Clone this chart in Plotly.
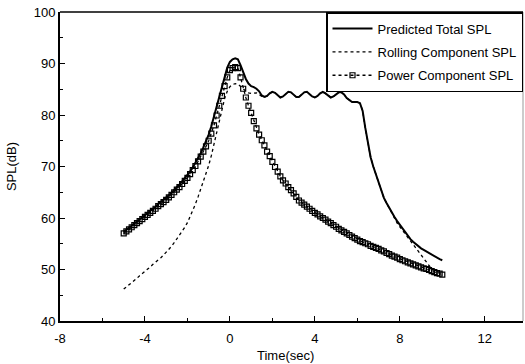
import numpy as np
import plotly.graph_objects as go

# time axis: -5 s to 10 s, 0.125 s step (121 samples)
time_sec = np.round(np.arange(-5.0, 10.0001, 0.125), 3)

# one row per second (8 samples), last value for t = 10
total_spl = [
    57.3, 57.7, 58.1, 58.5, 58.9, 59.3, 59.7, 60.2,   # -5
    60.6, 61.0, 61.4, 61.8, 62.2, 62.7, 63.1, 63.5,   # -4
    63.9, 64.4, 64.9, 65.4, 66.0, 66.5, 67.1, 67.7,   # -3
    68.3, 69.0, 69.8, 70.7, 71.7, 72.6, 73.7, 74.8,   # -2
    76.2, 77.8, 79.7, 81.7, 83.8, 85.6, 87.6, 89.2,   # -1
    90.3, 90.8, 91.0, 90.8, 89.7, 88.3, 87.0, 86.1,   # 0
    85.6, 85.4, 85.1, 84.6, 83.8, 83.5, 83.7, 84.2,   # 1
    84.5, 84.3, 83.8, 83.4, 83.6, 84.0, 84.5, 84.4,   # 2
    83.9, 83.5, 83.5, 84.0, 84.4, 84.5, 84.1, 83.6,   # 3
    83.4, 83.7, 84.2, 84.5, 84.2, 83.7, 83.4, 83.6,   # 4
    84.0, 84.4, 84.4, 84.0, 83.3, 82.8, 82.5, 82.5,   # 5
    82.5, 82.3, 80.8, 77.5, 74.5, 71.8, 70.0, 68.5,   # 6
    67.0, 65.3, 63.9, 62.9, 61.9, 61.0, 60.2, 59.4,   # 7
    58.7, 58.0, 57.2, 56.6, 55.9, 55.4, 54.9, 54.5,   # 8
    54.1, 53.8, 53.5, 53.1, 52.8, 52.5, 52.2, 52.0,   # 9
    51.8,
]

rolling_spl = [
    46.2, 46.6, 47.0, 47.4, 47.9, 48.3, 48.8, 49.2,   # -5
    49.7, 50.1, 50.5, 51.0, 51.4, 51.9, 52.3, 52.8,   # -4
    53.3, 53.9, 54.5, 55.2, 55.9, 56.6, 57.4, 58.2,   # -3
    59.1, 60.2, 61.4, 62.7, 64.1, 65.6, 67.1, 68.6,   # -2
    70.2, 72.1, 74.3, 76.8, 79.2, 81.4, 83.2, 84.6,   # -1
    85.5, 85.9, 86.1, 86.0, 85.6, 85.1, 84.6, 84.3,   # 0
    84.2, 84.3, 84.3, 84.0, 83.6, 83.5, 83.7, 84.2,   # 1
    84.5, 84.3, 83.8, 83.4, 83.6, 84.0, 84.5, 84.4,   # 2
    83.9, 83.5, 83.5, 84.0, 84.4, 84.5, 84.1, 83.6,   # 3
    83.4, 83.7, 84.2, 84.5, 84.2, 83.7, 83.4, 83.6,   # 4
    84.0, 84.4, 84.4, 84.0, 83.3, 82.8, 82.5, 82.5,   # 5
    82.5, 82.3, 80.8, 77.5, 74.5, 71.8, 70.0, 68.5,   # 6
    67.0, 65.3, 63.9, 62.9, 61.9, 61.0, 60.2, 59.0,   # 7
    58.3, 57.6, 56.9, 56.2, 55.5, 54.8, 54.1, 53.4,   # 8
    52.7, 52.0, 51.3, 50.6, 50.1, 49.8, 49.6, 49.4,   # 9
    49.2,
]

power_spl = [
    57.0, 57.4, 57.8, 58.2, 58.6, 59.0, 59.4, 59.8,   # -5
    60.2, 60.6, 61.0, 61.4, 61.8, 62.3, 62.7, 63.1,   # -4
    63.5, 64.0, 64.5, 65.0, 65.5, 66.0, 66.6, 67.2,   # -3
    67.8, 68.5, 69.3, 70.1, 71.0, 71.9, 72.9, 73.9,   # -2
    75.0, 76.4, 78.0, 79.9, 81.8, 83.7, 85.6, 87.3,   # -1
    88.7, 89.1, 89.3, 89.1, 87.3, 85.1, 83.4, 81.8,   # 0
    80.4, 78.8, 77.4, 76.2, 75.1, 74.1, 72.9, 72.0,   # 1
    70.9, 69.9, 69.0, 68.1, 67.3, 66.7, 66.0, 65.4,   # 2
    64.8, 64.1, 63.4, 63.0, 62.6, 62.2, 61.8, 61.4,   # 3
    61.0, 60.7, 60.3, 60.0, 59.7, 59.3, 59.0, 58.6,   # 4
    58.3, 57.9, 57.6, 57.3, 57.0, 56.7, 56.4, 56.1,   # 5
    55.8, 55.5, 55.3, 55.1, 54.9, 54.6, 54.4, 54.2,   # 6
    54.0, 53.7, 53.5, 53.2, 53.0, 52.7, 52.5, 52.3,   # 7
    52.0, 51.8, 51.6, 51.4, 51.2, 51.0, 50.8, 50.6,   # 8
    50.4, 50.2, 50.1, 49.9, 49.7, 49.5, 49.3, 49.2,   # 9
    49.0,
]

x_ticks = [-8, -4, 0, 4, 8, 12]
y_ticks = [40, 50, 60, 70, 80, 90, 100]

FONT = "Liberation Sans, Arial, Helvetica, sans-serif"

fig = go.Figure()
fig.add_trace(go.Scatter(
    x=time_sec, y=total_spl, mode="lines", name="Predicted Total SPL",
    line=dict(color="black", width=2), legendgroup="a"))
fig.add_trace(go.Scatter(
    x=time_sec, y=rolling_spl, mode="lines", name="Rolling Component SPL",
    line=dict(color="black", width=1.3, dash="dot"), legendgroup="b"))
fig.add_trace(go.Scatter(
    x=time_sec, y=power_spl, mode="lines+markers", name="Power Component SPL",
    line=dict(color="black", width=1.3, dash="dot"),
    marker=dict(symbol="square-open", size=5, color="black", line=dict(width=1.2)),
    legendgroup="c"))

fig.update_layout(
    width=525, height=364,
    margin=dict(l=60, r=2, t=12, b=43),
    paper_bgcolor="white", plot_bgcolor="white",
    font=dict(family=FONT, size=13, color="black"),
    showlegend=True,
    legend=dict(x=1, y=1, xanchor="right", yanchor="top",
                bgcolor="white", bordercolor="black", borderwidth=1.5,
                font=dict(family=FONT, size=13, color="black"),
                itemwidth=40, tracegroupgap=3.5),
)
fig.update_xaxes(
    range=[-8, 13.8], tickvals=x_ticks, ticktext=[f"{v}" for v in x_ticks],
    ticks="inside", ticklen=5, tickwidth=1, tickcolor="black",
    minor=dict(ticks="inside", dtick=2, ticklen=3, tickcolor="black"),
    showline=True, linecolor="black", linewidth=2, showgrid=False, zeroline=False,
    ticklabelstandoff=4,
    tickfont=dict(size=13),
)
fig.update_yaxes(
    range=[40, 100], tickvals=y_ticks,
    ticks="inside", ticklen=5, tickwidth=1, tickcolor="black",
    minor=dict(ticks="inside", dtick=5, ticklen=3, tickcolor="black"),
    showline=True, linecolor="black", linewidth=2, showgrid=False, zeroline=False,
    title=dict(text="SPL(dB)", font=dict(size=13), standoff=14),
    tickfont=dict(size=13),
)
# x-axis title placed close under the tick labels, as in the original
fig.add_annotation(text="Time(sec)", xref="paper", yref="paper", x=0.487, y=-0.112,
                   xanchor="center", yanchor="middle", showarrow=False,
                   font=dict(family=FONT, size=13, color="black"))
# frame: top and right borders
fig.add_shape(type="line", xref="paper", yref="paper", x0=0, x1=1, y0=1, y1=1,
              line=dict(color="black", width=1.5))
fig.add_shape(type="line", xref="paper", yref="paper", x0=1, x1=1, y0=0, y1=1,
              line=dict(color="#999999", width=1))

fig.write_html("out.html")
